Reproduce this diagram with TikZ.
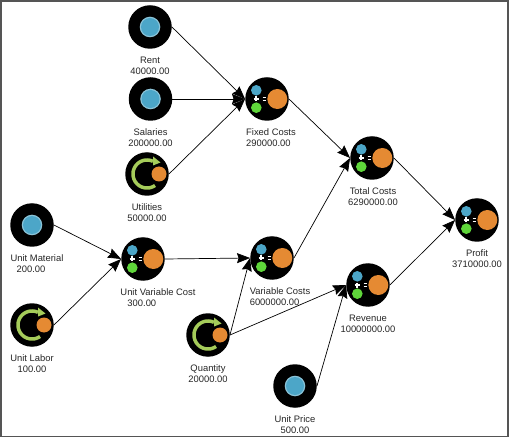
\documentclass[tikz,border=0pt]{standalone}
\usepackage{fontspec}
\setmainfont{Liberation Sans}
\usepackage{xcolor}
\usetikzlibrary{arrows.meta, positioning}

\definecolor{inblue}{HTML}{4CA6C8}
\definecolor{inrim}{HTML}{8CC4D8}
\definecolor{outorange}{HTML}{E58A33}
\definecolor{addgreen}{HTML}{5FD63A}
\definecolor{loopgreen}{HTML}{A5CC5A}
\definecolor{framegray}{HTML}{555555}

\begin{document}
\begin{tikzpicture}[
    x=1pt, y=-1pt,
    node distance=8pt and 0pt,
    ball/.style={circle, fill=black, inner sep=0pt, minimum size=43.5pt},
    inputball/.style={ball, path picture={
        \fill[inrim] (path picture bounding box.center) circle (10.3pt);
        \fill[inblue] (path picture bounding box.center) circle (9pt);}},
    formulaball/.style={ball, path picture={
        \begin{scope}[shift={(path picture bounding box.center)}]
        \fill[inblue] (-10.7,-8.7) circle (5.3pt);
        \fill[addgreen] (-10.7,8.7) circle (5.3pt);
        \fill[outorange] (10.3,0) circle (10pt);
        \draw[white, line width=1.2pt] (-13.5,0) -- (-8.5,0) (-11,-2.5) -- (-11,2.5);
        \draw[white, line width=1pt] (-4.5,-1.4) -- (-1,-1.4) (-4.5,1.4) -- (-1,1.4);
        \end{scope}}},
    loopball/.style={ball, path picture={
        \begin{scope}[shift={(path picture bounding box.center)}]
        \draw[loopgreen, line width=3.5pt] plot[domain=55:295, samples=40] ({14*cos(\x)}, {14*sin(\x)});
        \fill[loopgreen] (6,-17.5) -- (13.5,-11.5) -- (6,-8.5) -- cycle;
        \fill[outorange] (12,0) circle (7.5pt);
        \end{scope}}},
    lbl/.style={font=\fontsize{9.4pt}{11pt}\selectfont, align=center, inner sep=0pt, text=black!85},
    arr/.style={-{Stealth[length=13pt, width=10pt, inset=1.5pt]}, line width=0.7pt}
]
\fill[white] (0,0) rectangle (511,438);
\draw[framegray, line width=1.6pt] (1,1) rectangle (508,436.5);

\node[inputball] (rent) at (150,27) {};
\node[inputball] (salaries) at (150.5,99) {};
\node[loopball] (utilities) at (147,174) {};
\node[formulaball] (fixed) at (267,99) {};
\node[inputball] (material) at (32,225) {};
\node[loopball] (labor) at (32,325) {};
\node[formulaball] (unitvar) at (143,259) {};
\node[formulaball] (varcosts) at (272,258) {};
\node[loopball] (quantity) at (208,335) {};
\node[inputball] (price) at (295,386) {};
\node[formulaball] (revenue) at (368,285) {};
\node[formulaball] (total) at (372,158) {};
\node[formulaball] (profit) at (477,220) {};

\node[lbl, below=of rent] (rentlbl) {Rent\\40000.00};
\node[lbl, below=of salaries] (salarieslbl) {Salaries\\200000.00};
\node[lbl, below=of utilities] (utilitieslbl) {Utilities\\50000.00};
\node[lbl, below=of fixed, xshift=4pt, align=left] (fixedlbl) {Fixed Costs\\290000.00};
\node[lbl, below=of material, xshift=5pt, align=left] (materiallbl) {Unit Material\\\hspace*{6pt}200.00};
\node[lbl, below=of labor] (laborlbl) {Unit Labor\\100.00};
\node[lbl, below=of unitvar, xshift=15pt, align=left] (unitvarlbl) {Unit Variable Cost\\\hspace*{7pt}300.00};
\node[lbl, below=of varcosts, xshift=8pt, align=left] (varcostslbl) {Variable Costs\\6000000.00};
\node[lbl, below=of quantity] (quantitylbl) {Quantity\\20000.00};
\node[lbl, below=of price] (pricelbl) {Unit Price\\500.00};
\node[lbl, below=of revenue] (revenuelbl) {Revenue\\10000000.00};
\node[lbl, below=of total, xshift=1pt] (totallbl) {Total Costs\\6290000.00};
\node[lbl, below=of profit] (profitlbl) {Profit\\3710000.00};

\draw[arr] (rent.east) -- (fixed.west);
\draw[arr] (salaries.east) -- (fixed.west);
\draw[arr] (utilities.east) -- (fixed.west);
\draw[arr] (material.east) -- (unitvar.west);
\draw[arr] (labor.east) -- (unitvar.west);
\draw[arr] (unitvar.east) -- (varcosts.west);
\draw[arr] (quantity.east) -- (varcosts.west);
\draw[arr] (quantity.east) -- (revenue.west);
\draw[arr] (price.east) -- (revenue.west);
\draw[arr] (fixed.east) -- (total.west);
\draw[arr] (varcosts.east) -- (total.west);
\draw[arr] (total.east) -- (profit.west);
\draw[arr] (revenue.east) -- (profit.west);
\end{tikzpicture}
\end{document}
